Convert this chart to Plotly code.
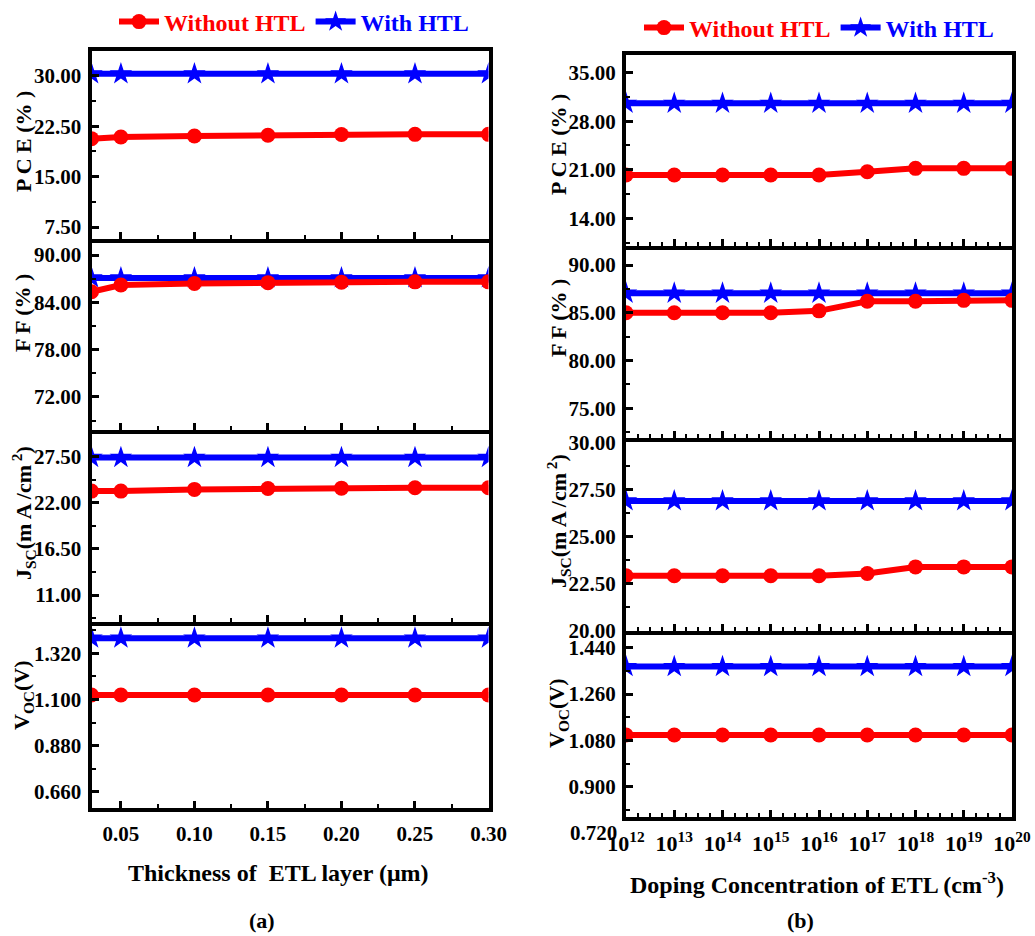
import plotly.graph_objects as go

W, H = 1035, 936

# ---- ETL thickness sweep (panel a) ----
thickness_um = [0.03, 0.05, 0.10, 0.15, 0.20, 0.25, 0.30]
pce_thk_without = [20.66, 20.90, 21.05, 21.17, 21.27, 21.30, 21.30]
pce_thk_with = [30.30, 30.30, 30.30, 30.30, 30.30, 30.30, 30.30]
ff_thk_without = [85.35, 86.20, 86.40, 86.50, 86.55, 86.60, 86.60]
ff_thk_with = [87.10, 87.10, 87.10, 87.10, 87.10, 87.10, 87.10]
jsc_thk_without = [23.40, 23.40, 23.60, 23.70, 23.75, 23.80, 23.80]
jsc_thk_with = [27.40, 27.40, 27.40, 27.40, 27.40, 27.40, 27.40]
voc_thk_without = [1.121, 1.121, 1.121, 1.121, 1.121, 1.121, 1.121]
voc_thk_with = [1.392, 1.392, 1.392, 1.392, 1.392, 1.392, 1.392]

# ---- ETL doping sweep (panel b) ----
doping_exp = [12, 13, 14, 15, 16, 17, 18, 19, 20]
doping_cm3 = [1e12, 1e13, 1e14, 1e15, 1e16, 1e17, 1e18, 1e19, 1e20]
pce_dop_without = [20.24, 20.24, 20.24, 20.24, 20.24, 20.71, 21.20, 21.20, 21.20]
pce_dop_with = [30.58, 30.58, 30.58, 30.58, 30.58, 30.58, 30.58, 30.58, 30.58]
ff_dop_without = [85.00, 85.00, 85.00, 85.00, 85.20, 86.20, 86.20, 86.30, 86.30]
ff_dop_with = [87.04, 87.04, 87.04, 87.04, 87.04, 87.04, 87.04, 87.04, 87.04]
jsc_dop_without = [22.90, 22.90, 22.90, 22.90, 22.90, 23.02, 23.37, 23.37, 23.37]
jsc_dop_with = [26.88, 26.88, 26.88, 26.88, 26.88, 26.88, 26.88, 26.88, 26.88]
voc_dop_without = [1.101, 1.101, 1.101, 1.101, 1.101, 1.101, 1.101, 1.101, 1.101]
voc_dop_with = [1.367, 1.367, 1.367, 1.367, 1.367, 1.367, 1.367, 1.367, 1.367]

# extra VOC tick label of panel (b) that sits just below its frame
voc_dop_low_tick = 0.72

RED = "#FF0000"
BLUE = "#0000FF"
FONT = "Liberation Serif"
LW = 4          # frame line width
HALF = LW / 2   # axis lines are drawn just outside the plotting area

def px_x(p):
    return p / W

def px_y(p):
    return 1 - p / H

# frame line centres (pixels)
left_x = (89.5, 490.5)
right_x = (624, 1014)
left_rows = [(49, 240.5), (240.5, 432), (432, 624), (624, 810)]
right_rows = [(53, 248), (248, 440), (440, 632.5), (632.5, 818.7)]

# y-axis settings: (range, dtick, format)
left_y = [
    ((5.8, 33.7), 7.5, ".2f"),
    ((67.81, 91.59), 6, ".2f"),
    ((7.78, 30.21), 5.5, ".2f"),
    ((0.583, 1.450), 0.22, ".3f"),
]
right_y = [
    ((10.0, 37.55), 7, ".2f"),
    ((71.89, 91.57), 5, ".2f"),
    ((19.99, 30.01), 2.5, ".2f"),
    ((0.783, 1.492), 0.18, ".3f"),
]

left_series = [
    (pce_thk_without, pce_thk_with),
    (ff_thk_without, ff_thk_with),
    (jsc_thk_without, jsc_thk_with),
    (voc_thk_without, voc_thk_with),
]
right_series = [
    (pce_dop_without, pce_dop_with),
    (ff_dop_without, ff_dop_with),
    (jsc_dop_without, jsc_dop_with),
    (voc_dop_without, voc_dop_with),
]

tick_font = dict(family=FONT, size=21, color="black", weight="bold")

fig = go.Figure()
layout = dict(
    width=W, height=H,
    margin=dict(l=0, r=0, t=0, b=0, pad=0, autoexpand=False),
    paper_bgcolor="white", plot_bgcolor="white",
    font=dict(family=FONT, color="black", weight="bold"),
)

def add_panel(idx0, xvals, series, rows, xdom_px, yset, legend_name, is_log):
    for k in range(4):
        n = idx0 + k
        xa = "x" if n == 1 else f"x{n}"
        ya = "y" if n == 1 else f"y{n}"
        without, with_ = series[k]
        fig.add_trace(go.Scatter(
            x=xvals, y=with_, xaxis=xa, yaxis=ya, mode="lines+markers",
            name=f"<span style='color:{BLUE}'>With HTL</span>",
            line=dict(color=BLUE, width=6),
            marker=dict(symbol="star", size=17, color=BLUE),
            showlegend=(k == 0), legend=legend_name, legendrank=2,
        ))
        fig.add_trace(go.Scatter(
            x=xvals, y=without, xaxis=xa, yaxis=ya, mode="lines+markers",
            name=f"<span style='color:{RED}'>Without HTL</span>",
            line=dict(color=RED, width=6),
            marker=dict(symbol="circle", size=15, color=RED),
            showlegend=(k == 0), legend=legend_name, legendrank=1,
        ))
        top, bot = rows[k]
        yr, dt, fmt = yset[k]
        xkey = "xaxis" if n == 1 else f"xaxis{n}"
        ykey = "yaxis" if n == 1 else f"yaxis{n}"
        xaxis = dict(
            domain=[px_x(xdom_px[0] + HALF), px_x(xdom_px[1] - HALF)],
            anchor=ya, showline=True, linewidth=LW, linecolor="black",
            mirror=True, ticks="inside", ticklen=7, tickwidth=3,
            tickcolor="black", showgrid=False, zeroline=False,
            showticklabels=(k == 3), tickfont=tick_font,
            ticklabelstandoff=4,
        )
        if is_log:
            xaxis.update(
                type="log", range=[12, 20],
                tickvals=doping_cm3,
                ticktext=[f"10<sup>{e}</sup>" for e in doping_exp],
                minor=dict(ticks="inside", ticklen=4, tickwidth=2,
                           tickcolor="black", dtick=0.25, showgrid=False),
                tickfont=dict(family=FONT, size=22, color="black", weight="bold"),
            )
        else:
            xaxis.update(
                range=[0.03, 0.30], tick0=0, dtick=0.05, tickformat=".2f",
                minor=dict(ticks="inside", ticklen=4, tickwidth=2,
                           tickcolor="black", dtick=0.025, showgrid=False),
            )
        layout[xkey] = xaxis
        layout[ykey] = dict(
            domain=[px_y(bot - HALF), px_y(top + HALF)], anchor=xa,
            range=list(yr), tick0=0, dtick=dt, tickformat=fmt,
            showline=True, linewidth=LW, linecolor="black", mirror=True,
            ticks="inside", ticklen=7, tickwidth=3, tickcolor="black",
            minor=dict(ticks="inside", ticklen=4, tickwidth=2,
                       tickcolor="black", dtick=dt / 2, showgrid=False),
            showgrid=False, zeroline=False, tickfont=tick_font,
            ticklabelstandoff=2,
        )

add_panel(1, thickness_um, left_series, left_rows, left_x, left_y, "legend", False)
add_panel(5, doping_cm3, right_series, right_rows, right_x, right_y, "legend2", True)

legend_common = dict(
    orientation="h", xanchor="center", yanchor="middle",
    font=dict(family=FONT, size=24, weight="bold"),
    bgcolor="rgba(0,0,0,0)", itemwidth=40, tracegroupgap=0,
)
layout["legend"] = dict(legend_common, x=px_x(294), y=px_y(22))
layout["legend2"] = dict(legend_common, x=px_x(819), y=px_y(28))

title_font = dict(family=FONT, size=22, color="black", weight="bold")
annotations = []
left_titles = [
    ("P C E (% )", 142), ("F F (% )", 313),
    ("J<sub>SC</sub>(m A /cm<sup> 2</sup>)", 513), ("V<sub>OC</sub>(V)", 695),
]
right_titles = [
    ("P C E (% )", 145), ("F F (% )", 318),
    ("J<sub>SC</sub>(m A /cm<sup> 2</sup>)", 521), ("V<sub>OC</sub>(V)", 713),
]
for text, yc in left_titles:
    annotations.append(dict(text=text, x=px_x(23), y=px_y(yc), xref="paper", yref="paper",
                            textangle=-90, showarrow=False, font=title_font,
                            xanchor="center", yanchor="middle"))
for text, yc in right_titles:
    annotations.append(dict(text=text, x=px_x(558), y=px_y(yc), xref="paper", yref="paper",
                            textangle=-90, showarrow=False, font=title_font,
                            xanchor="center", yanchor="middle"))

# place the low VOC tick label using the (b) VOC axis scale, extended past its range
v_lo, v_hi = right_y[3][0]
v_top, v_bot = right_rows[3][0] + HALF, right_rows[3][1] - HALF
low_px = v_bot + (v_lo - voc_dop_low_tick) / (v_hi - v_lo) * (v_bot - v_top)
annotations.append(dict(text=f"{voc_dop_low_tick:.3f}", x=px_x(619), y=px_y(low_px),
                        xref="paper", yref="paper", showarrow=False, font=tick_font,
                        xanchor="right", yanchor="middle"))

annotations += [
    dict(text="Thickness of  ETL layer (μm)", x=px_x(278), y=px_y(873), xref="paper", yref="paper",
         showarrow=False, font=dict(family=FONT, size=24, color="black", weight="bold"),
         xanchor="center", yanchor="middle"),
    dict(text="Doping Concentration of ETL (cm<sup>-3</sup>)", x=px_x(817), y=px_y(883),
         xref="paper", yref="paper", showarrow=False,
         font=dict(family=FONT, size=24, color="black", weight="bold"),
         xanchor="center", yanchor="middle"),
    dict(text="(a)", x=px_x(262), y=px_y(920), xref="paper", yref="paper", showarrow=False,
         font=dict(family=FONT, size=22, color="black", weight="bold"),
         xanchor="center", yanchor="middle"),
    dict(text="(b)", x=px_x(800), y=px_y(920), xref="paper", yref="paper", showarrow=False,
         font=dict(family=FONT, size=22, color="black", weight="bold"),
         xanchor="center", yanchor="middle"),
]
layout["annotations"] = annotations

fig.update_layout(**layout)
fig.write_html("out.html")
